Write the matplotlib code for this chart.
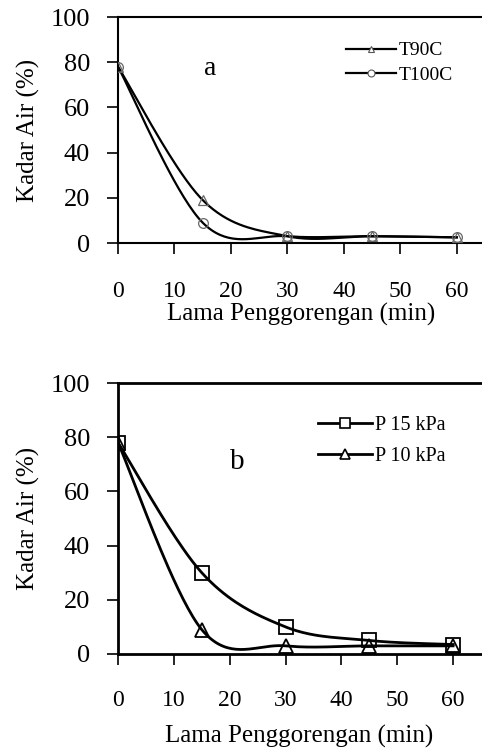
import numpy as np
import matplotlib
matplotlib.use("Agg")
import matplotlib.pyplot as plt

plt.rcParams['font.family'] = ['Liberation Serif', 'DejaVu Serif']

# Data
time_min = [0, 15, 30, 45, 60]
t90c = [78, 19, 3, 3, 2.5]
t100c = [78, 9, 3, 3, 2.5]
p15 = [78, 30, 10, 5, 3.5]
p10 = [78, 9, 3, 3, 3]
xticks = [0, 10, 20, 30, 40, 50, 60]
yticks = [0, 20, 40, 60, 80, 100]


def smooth(x, y, n=40):
    """Excel-like smoothed line (Bezier through points)."""
    P = np.column_stack([x, y]).astype(float)
    P_ext = np.vstack([P[0], P, P[-1]])
    out = []
    for i in range(len(P) - 1):
        p0, p1, p2, p3 = P_ext[i], P_ext[i + 1], P_ext[i + 2], P_ext[i + 3]
        c1 = p1 + (p2 - p0) / 6.0
        c2 = p2 - (p3 - p1) / 6.0
        t = np.linspace(0, 1, n)[:, None]
        seg = ((1 - t) ** 3) * p1 + 3 * ((1 - t) ** 2) * t * c1 + 3 * (1 - t) * t ** 2 * c2 + t ** 3 * p2
        out.append(seg if i == 0 else seg[1:])
    s = np.vstack(out)
    return s[:, 0], s[:, 1]


fig = plt.figure(figsize=(4.82, 7.48), dpi=100)
W, H = 482, 748


def make_ax(left, top, right, bottom):
    return fig.add_axes([left / W, 1 - bottom / H, (right - left) / W, (bottom - top) / H])


def style(ax, xpad, lab_pad, lw):
    ax.set_xlim(0, 65)
    ax.set_ylim(0, 100)
    ax.set_xticks(xticks)
    ax.set_yticks(yticks)
    ax.spines['right'].set_visible(False)
    for s in ['left', 'bottom', 'top']:
        ax.spines[s].set_linewidth(lw)
    ax.tick_params(axis='x', direction='out', length=8, width=1.2, pad=xpad, labelsize=17)
    ax.tick_params(axis='y', direction='out', length=8, width=1.2, pad=12, labelsize=19)
    ax.set_ylabel('Kadar Air (%)', fontsize=18, labelpad=8)
    ax.set_xlabel('Lama Penggorengan (min)', fontsize=18, labelpad=lab_pad)


# Top chart (a)
ax1 = make_ax(118, 17, 485, 243)
style(ax1, 19, 1, 1.5)
for ys, mk, lab in [(t90c, '^', 'T90C'), (t100c, 'o', 'T100C')]:
    sx, sy = smooth(time_min, ys)
    ax1.plot(sx, sy, color='black', lw=1.6, zorder=2)
    ax1.plot(time_min, ys, linestyle='none', marker=mk, ms=7, mfc='none', mec='#666666', mew=0.9, zorder=3)
h1 = [plt.Line2D([], [], color='black', lw=1.6, marker='^', ms=5, mfc='white', mec='#555555', mew=0.8),
      plt.Line2D([], [], color='black', lw=1.6, marker='o', ms=5, mfc='white', mec='#555555', mew=0.8)]
ax1.legend(h1, ['T90C', 'T100C'], loc='upper left', bbox_to_anchor=(0.62, 0.89), frameon=False,
           fontsize=14, handlelength=2.6, handletextpad=0.15, borderpad=0, borderaxespad=0, labelspacing=0.35)
ax1.text(16.3, 77, 'a', fontsize=20, ha='center', va='center')

# Bottom chart (b)
ax2 = make_ax(118, 383, 481, 654)
style(ax2, 18, 10, 2.0)
for ys, mk, lab in [(p15, 's', 'P 15 kPa'), (p10, '^', 'P 10 kPa')]:
    sx, sy = smooth(time_min, ys)
    ax2.plot(sx, sy, color='black', lw=2.0, zorder=2)
    ax2.plot(time_min, ys, linestyle='none', marker=mk, ms=10, mfc='none', mec='black', mew=1.3, zorder=3)
h2 = [plt.Line2D([], [], color='black', lw=2.0, marker='s', ms=7, mfc='white', mec='black', mew=1.2),
      plt.Line2D([], [], color='black', lw=2.0, marker='^', ms=7, mfc='white', mec='black', mew=1.2)]
ax2.legend(h2, ['P 15 kPa', 'P 10 kPa'], loc='upper left', bbox_to_anchor=(0.55, 0.88), frameon=False,
           fontsize=14.5, handlelength=2.7, handletextpad=0.15, borderpad=0, borderaxespad=0, labelspacing=0.6)
ax2.text(21.4, 71, 'b', fontsize=21, ha='center', va='center')

fig.savefig('out.png', dpi=100)
